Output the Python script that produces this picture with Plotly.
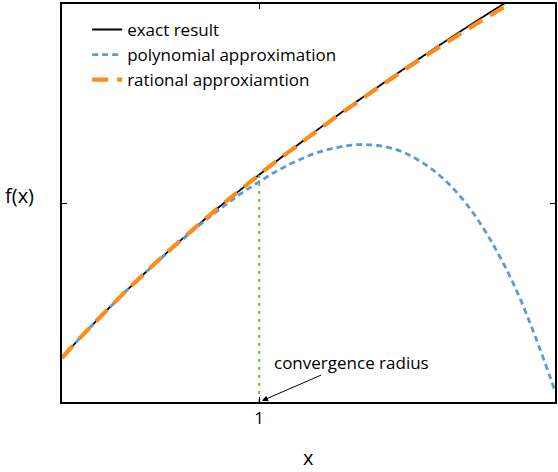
import plotly.graph_objects as go

# ---- data ----
x_vals = [0.0, 0.1, 0.2, 0.3, 0.4, 0.5, 0.6, 0.7, 0.8, 0.9, 1.0, 1.1, 1.2,
          1.3, 1.4, 1.5, 1.6, 1.7, 1.8, 1.9, 2.0, 2.1, 2.2, 2.3, 2.4, 2.5]
exact_vals = [1.000, 1.049, 1.095, 1.140, 1.183, 1.225, 1.265, 1.304, 1.342,
              1.378, 1.414, 1.449, 1.483, 1.517, 1.549, 1.581, 1.612, 1.643,
              1.673, 1.703, 1.732, 1.761, 1.789, 1.817, 1.844, 1.871]
poly_vals = [1.000, 1.049, 1.095, 1.140, 1.183, 1.224, 1.263, 1.301, 1.336,
             1.369, 1.398, 1.425, 1.447, 1.465, 1.476, 1.482, 1.480, 1.470,
             1.449, 1.418, 1.375, 1.318, 1.245, 1.157, 1.048, 0.925]
rational_vals = [1.000, 1.049, 1.095, 1.140, 1.183, 1.225, 1.265, 1.304,
                 1.342, 1.378, 1.414, 1.449, 1.482, 1.515, 1.548, 1.579,
                 1.610, 1.640, 1.670, 1.699, 1.727, 1.755, 1.782, 1.809,
                 1.835, 1.861]
convergence_radius = 1.0
exact_at_radius = 1.414
y_min, y_max = 0.9, 1.8
x_tick_vals = [1]
x_tick_text = ["1"]
y_tick_vals = [1.35]
y_tick_text = [""]

FONT = "Open Sans"

fig = go.Figure()
fig.add_trace(go.Scatter(
    x=x_vals, y=exact_vals, mode="lines", name="exact result",
    line=dict(color="black", width=1.8, shape="spline")))
fig.add_trace(go.Scatter(
    x=x_vals, y=poly_vals, mode="lines", name="polynomial approximation",
    line=dict(color="#5B9BD5", width=2.8, dash="6px,4px", shape="spline")))
fig.add_trace(go.Scatter(
    x=x_vals, y=rational_vals, mode="lines", name="rational approxiamtion",
    line=dict(color="#FF8C1A", width=4.2, dash="16px,9px", shape="spline")))
fig.add_trace(go.Scatter(
    x=[convergence_radius, convergence_radius], y=[y_min, exact_at_radius],
    mode="lines", showlegend=False,
    line=dict(color="#7DBE1E", width=2, dash="3px,5px")))

fig.add_annotation(
    x=convergence_radius, y=y_min, xref="x", yref="y",
    text="convergence radius", showarrow=True,
    ax=92, ay=-40, axref="pixel", ayref="pixel",
    arrowhead=2, arrowsize=1.2, arrowwidth=1, arrowcolor="black",
    standoff=3, font=dict(family=FONT, size=17, color="black"))
fig.add_annotation(
    x=0, y=0.5, xref="paper", yref="paper", xshift=-43, yshift=8,
    xanchor="center", yanchor="middle",
    text="f(x)", showarrow=False,
    font=dict(family=FONT, size=20, color="black"))
fig.add_annotation(
    x=0.5, y=0, xref="paper", yref="paper", yshift=-55,
    xanchor="center", yanchor="middle",
    text="x", showarrow=False,
    font=dict(family=FONT, size=20, color="black"))

fig.update_layout(
    width=558, height=472,
    margin=dict(l=62, r=1, t=4, b=70),
    paper_bgcolor="white", plot_bgcolor="white",
    font=dict(family=FONT, size=17, color="black"),
    showlegend=True,
    legend=dict(x=0.051, y=0.98, xanchor="left", yanchor="top",
                bgcolor="rgba(0,0,0,0)", font=dict(family=FONT, size=17),
                tracegroupgap=0),
)
fig.update_xaxes(
    range=[0, 2.5], showgrid=False, zeroline=False,
    showline=True, linecolor="black", linewidth=1.5, mirror="ticks",
    ticks="inside", ticklen=5, tickcolor="black",
    tickvals=x_tick_vals, ticktext=x_tick_text,
    tickfont=dict(family=FONT, size=17))
fig.update_yaxes(
    range=[y_min, y_max], showgrid=False, zeroline=False,
    showline=True, linecolor="black", linewidth=1.5, mirror="ticks",
    ticks="inside", ticklen=5, tickcolor="black",
    tickvals=y_tick_vals, ticktext=y_tick_text)

fig.write_html("out.html", config={"displayModeBar": False},
               post_script="document.body.style.margin='0';")
